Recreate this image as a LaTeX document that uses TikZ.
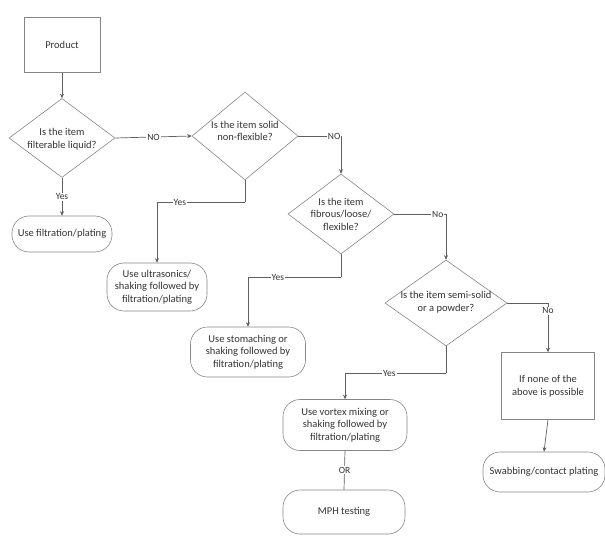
\documentclass[tikz,border=0pt]{standalone}
\usepackage{fontspec}
\setmainfont{Carlito}
\usetikzlibrary{shapes.geometric,arrows.meta}
\definecolor{ln}{HTML}{606060}
\definecolor{bx}{HTML}{858585}
\definecolor{tx}{HTML}{333333}
\tikzset{
  box/.style={draw=bx,line width=0.6pt,rectangle,inner sep=0pt,text=tx,align=center,font=\fontsize{10.5}{12.5}\selectfont},
  rbox/.style={draw=bx,line width=0.6pt,rectangle,rounded corners=17pt,inner sep=0pt,text=tx,align=center,font=\fontsize{10.5}{12.5}\selectfont},
  dia/.style={draw=bx,line width=0.6pt,diamond,inner sep=0pt},
  dtxt/.style={text=tx,align=center,inner sep=0pt,font=\fontsize{10.5}{12.5}\selectfont},
  arr/.style={draw=ln,line width=0.7pt,-{Stealth[length=4.5pt,width=4pt]}},
  conn/.style={draw=ln,line width=0.7pt},
  lab/.style={fill=white,text=tx,inner sep=1pt,font=\fontsize{9.5}{10}\selectfont}
}
\begin{document}
\begin{tikzpicture}[x=1pt,y=-1pt]
\useasboundingbox (0,0) rectangle (605,540);
% nodes
\node[box,minimum width=76pt,minimum height=55pt] (prod) at (62,45) {Product};
\node[dia,minimum width=106pt,minimum height=79pt] (d1) at (62,138) {};
\node[dtxt] (d1t) at (62,139) {Is the item\\filterable liquid?};
\node[rbox,minimum width=100pt,minimum height=36pt] (filt) at (62,234) {Use filtration/plating};
\node[dia,minimum width=106pt,minimum height=88pt] (d2) at (245,136) {};
\node[dtxt] (d2t) at (245,131) {Is the item solid\\non-flexible?};
\node[rbox,minimum width=100pt,minimum height=48pt] (ultra) at (157,287) {Use ultrasonics/\\shaking followed by\\filtration/plating};
\node[dia,minimum width=106pt,minimum height=80pt] (d3) at (341,214) {};
\node[dtxt] (d3t) at (341,214) {Is the item\\fibrous/loose/\\flexible?};
\node[rbox,minimum width=115pt,minimum height=50pt] (stom) at (248,352) {Use stomaching or\\shaking followed by\\filtration/plating};
\node[dia,minimum width=122pt,minimum height=86pt] (d4) at (446,303) {};
\node[dtxt] (d4t) at (446,302) {Is the item semi-solid\\or a powder?};
\node[box,minimum width=93pt,minimum height=67pt] (none) at (548,386) {If none of the\\above is possible};
\node[rbox,minimum width=122pt,minimum height=40pt] (swab) at (544,472) {Swabbing/contact plating};
\node[rbox,minimum width=124pt,minimum height=51pt] (vort) at (345,425) {Use vortex mixing or\\shaking followed by\\filtration/plating};
\node[rbox,minimum width=122pt,minimum height=44pt] (mph) at (344,512) {MPH testing};
% corner coordinates
\coordinate (c2) at (245,202);
\coordinate (c3) at (341,277);
\coordinate (c4) at (446,373);
% connectors
\draw[arr] (prod.south) -- (d1.north);
\draw[arr] (d1.east) -- node[lab,pos=0.5]{NO} (d2.west);
\draw[arr] (d1.south) -- node[lab,pos=0.5]{Yes} (filt.north);
\draw[arr] (d2.east) -| node[lab,pos=0.42]{NO} (d3.north);
\draw[conn] (d2.south) -- (c2);
\draw[arr] (c2) -| node[lab,pos=0.37]{Yes} (ultra.north);
\draw[arr] (d3.east) -| node[lab,pos=0.42]{No} (d4.north);
\draw[conn] (d3.south) -- (c3);
\draw[arr] (c3) -| node[lab,pos=0.34]{Yes} (stom.north);
\draw[arr] (d4.east) -| node[lab,pos=0.58]{No} (none.north);
\draw[conn] (d4.south) -- (c4);
\draw[arr] (c4) -| node[lab,pos=0.28]{Yes} (vort.north);
\draw[arr] (none.south) -- (swab.north);
\draw[conn] (vort.south) -- node[lab,pos=0.5]{OR} (mph.north);
\end{tikzpicture}
\end{document}
